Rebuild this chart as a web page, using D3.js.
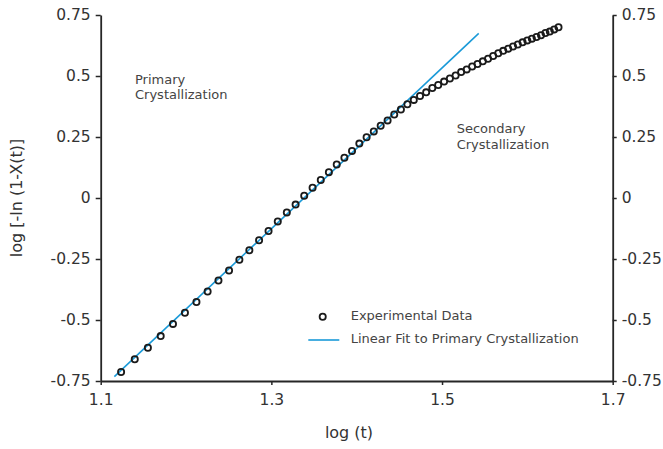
<!DOCTYPE html>
<html>
<head>
<meta charset="utf-8">
<script src="https://cdn.jsdelivr.net/npm/d3@7"></script>
<style>
  html, body { margin: 0; padding: 0; background: #fff; }
  svg { display: block; font-family: "DejaVu Sans", sans-serif; }
</style>
</head>
<body>
<svg id="chart" width="663" height="449"></svg>
<script>
// Avrami plot: log[-ln(1-X(t))] against log(t)
const logT = [
  1.1239, 1.1399, 1.1553, 1.1703, 1.1847, 1.1987, 1.2122, 1.2253, 1.2380, 1.2504,
  1.2625, 1.2742, 1.2856, 1.2967, 1.3075, 1.3181, 1.3284, 1.3385, 1.3483, 1.3579,
  1.3674, 1.3766, 1.3856, 1.3945, 1.4031, 1.4116, 1.4200, 1.4281, 1.4362, 1.4440,
  1.4518, 1.4594, 1.4669, 1.4742, 1.4814, 1.4886, 1.4955, 1.5024, 1.5092, 1.5159,
  1.5224, 1.5289, 1.5353, 1.5416, 1.5478, 1.5539, 1.5599, 1.5659, 1.5717, 1.5775,
  1.5832, 1.5888, 1.5944, 1.5999, 1.6053, 1.6107, 1.6160, 1.6212, 1.6263, 1.6314,
  1.6365
];
const logY = [
  -0.713, -0.661, -0.614, -0.566, -0.516, -0.470, -0.426, -0.383, -0.338, -0.297,
  -0.253, -0.214, -0.173, -0.135, -0.096, -0.059, -0.027, 0.009, 0.042, 0.074,
  0.106, 0.137, 0.165, 0.193, 0.223, 0.249, 0.273, 0.296, 0.318, 0.342,
  0.363, 0.384, 0.402, 0.418, 0.433, 0.451, 0.463, 0.477, 0.490, 0.502,
  0.516, 0.527, 0.539, 0.549, 0.560, 0.571, 0.582, 0.593, 0.603, 0.612,
  0.621, 0.629, 0.638, 0.646, 0.653, 0.660, 0.667, 0.676, 0.682, 0.691,
  0.700
];
// Linear fit to the primary crystallization region (end points)
const fitLogT = [1.116, 1.543];
const fitLogY = [-0.732, 0.675];

const xTicks = [1.1, 1.3, 1.5, 1.7];
const xTickLabels = ["1.1", "1.3", "1.5", "1.7"];
const yTicks = [0.75, 0.5, 0.25, 0, -0.25, -0.5, -0.75];
const yTickLabels = ["0.75", "0.5", "0.25", "0", "-0.25", "-0.5", "-0.75"];

const xTitle = "log (t)";
const yTitle = "log [-ln (1-X(t)]";
const legendLabels = ["Experimental Data", "Linear Fit to Primary Crystallization"];

const svg = d3.select("#chart");
const W = 663, H = 449;
const margin = { top: 15, right: 50.3, bottom: 68, left: 100.7 };

const x = d3.scaleLinear().domain([1.1, 1.7]).range([margin.left, W - margin.right]);
const y = d3.scaleLinear().domain([-0.75, 0.75]).range([H - margin.bottom, margin.top]);

const axisColor = "#262626";
const textColor = "#333";

function styleAxis(g) {
  g.selectAll(".domain").attr("stroke", axisColor).attr("stroke-width", 1.8);
  g.selectAll(".tick line").attr("stroke", axisColor).attr("stroke-width", 1.5);
  g.selectAll(".tick text")
    .attr("fill", textColor)
    .style("font-family", "'DejaVu Sans', sans-serif")
    .style("font-size", "15.5px");
}

// Bottom axis
svg.append("g")
  .attr("transform", `translate(0,${y(-0.75)})`)
  .call(d3.axisBottom(x).tickValues(xTicks)
    .tickFormat((d, i) => xTickLabels[i])
    .tickSizeInner(4).tickSizeOuter(0).tickPadding(9))
  .call(styleAxis);

// Left axis
svg.append("g")
  .attr("transform", `translate(${x(1.1)},0)`)
  .call(d3.axisLeft(y).tickValues(yTicks)
    .tickFormat((d, i) => yTickLabels[i])
    .tickSizeInner(5).tickSizeOuter(0).tickPadding(5))
  .call(styleAxis);

// Right axis
svg.append("g")
  .attr("transform", `translate(${x(1.7)},0)`)
  .call(d3.axisRight(y).tickValues(yTicks)
    .tickFormat((d, i) => yTickLabels[i])
    .tickSizeInner(4).tickSizeOuter(0).tickPadding(5))
  .call(styleAxis);

// Axis titles
svg.append("text")
  .attr("x", 349).attr("y", 438)
  .attr("text-anchor", "middle")
  .attr("fill", textColor)
  .style("font-size", "16px")
  .text(xTitle);

svg.append("text")
  .attr("transform", "translate(22,198) rotate(-90)")
  .attr("text-anchor", "middle")
  .attr("fill", textColor)
  .style("font-size", "16px")
  .text(yTitle);

// Fit line
const fitLine = d3.line().x(d => x(d[0])).y(d => y(d[1]));
const blue = "#1a9ad8";
svg.append("path")
  .datum(fitLogT.map((t, i) => [t, fitLogY[i]]))
  .attr("d", fitLine)
  .attr("fill", "none")
  .attr("stroke", blue)
  .attr("stroke-width", 1.6);

// Experimental data
const markerR = 3.1;
svg.append("g")
  .selectAll("circle")
  .data(logT.map((t, i) => [t, logY[i]]))
  .join("circle")
  .attr("cx", d => x(d[0]))
  .attr("cy", d => y(d[1]))
  .attr("r", markerR)
  .attr("fill", "none")
  .attr("stroke", "#1a1a1a")
  .attr("stroke-width", 1.8);

// Region annotations
const noteColor = "#444";
function note(xp, yp, lines) {
  const t = svg.append("text")
    .attr("fill", noteColor)
    .style("font-size", "13px");
  lines.forEach((s, i) => {
    t.append("tspan").attr("x", xp).attr("y", yp + i * 15.5).text(s);
  });
}
note(135, 83.5, ["Primary", "Crystallization"]);
note(456.7, 133, ["Secondary", "Crystallization"]);

// Legend
const legend = svg.append("g");
legend.append("circle")
  .attr("cx", 322.7).attr("cy", 316.7).attr("r", markerR)
  .attr("fill", "none").attr("stroke", "#1a1a1a").attr("stroke-width", 1.8);
legend.append("line")
  .attr("x1", 308.3).attr("x2", 339.3)
  .attr("y1", 340).attr("y2", 340)
  .attr("stroke", blue).attr("stroke-width", 1.6);
legend.append("text")
  .attr("x", 350.7).attr("y", 319.5)
  .attr("fill", noteColor).style("font-size", "13px")
  .text(legendLabels[0]);
legend.append("text")
  .attr("x", 350.7).attr("y", 342.5)
  .attr("fill", noteColor).style("font-size", "13px")
  .text(legendLabels[1]);
</script>
</body>
</html>
